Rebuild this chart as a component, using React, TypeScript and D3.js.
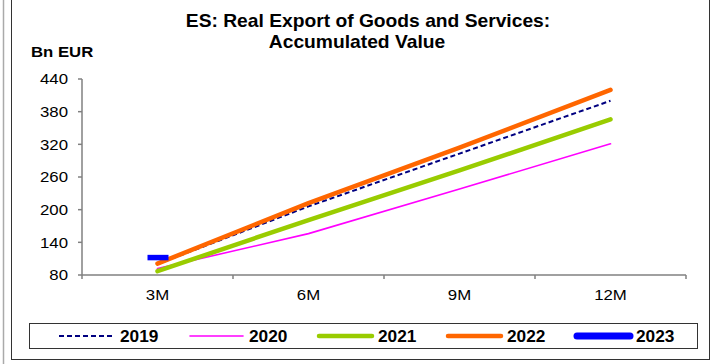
import React from 'react';
import * as d3 from 'd3';

const categories = ['3M', '6M', '9M', '12M'];
const yTicks = [80, 140, 200, 260, 320, 380, 440];
const v2019 = [100, 206, 303, 400];
const v2020 = [92, 156, 238, 321];
const v2021 = [87, 181, 272, 366];
const v2022 = [101, 212, 314, 420];
const v2023 = [112];
const seriesNames = ['2019', '2020', '2021', '2022', '2023'];

const FONT = '"Liberation Sans", Arial, sans-serif';

function T(props: { x: number; y: number; sx?: number; size: number; bold?: boolean; anchor?: string; children: React.ReactNode }) {
  const { x, y, sx = 1.1, size, bold, anchor = 'start', children } = props;
  return (
    <text transform={`translate(${x},${y}) scale(${sx},1)`} textAnchor={anchor} fontSize={size}
      fontWeight={bold ? 'bold' : 'normal'} fill="#000">{children}</text>
  );
}

export default function App() {
  const W = 712, H = 364;
  const x = d3.scaleBand<string>().domain(categories).range([82, 686]).paddingInner(0).paddingOuter(0);
  const y = d3.scaleLinear().domain([80, 440]).range([275, 79]);
  const cx = (c: string) => (x(c) as number) + x.bandwidth() / 2;

  const line = d3.line<number>().x((_, i) => cx(categories[i])).y((d) => y(d));

  const styles = [
    { color: '#000080', width: 2, dash: '5,3', values: v2019 },
    { color: '#FF00FF', width: 1.6, dash: undefined, values: v2020 },
    { color: '#99CC00', width: 4.5, dash: undefined, values: v2021 },
    { color: '#FF6600', width: 4.5, dash: undefined, values: v2022 },
    { color: '#0000FF', width: 5.5, dash: undefined, values: v2023 },
  ];

  const boundaries = [...categories.map((c) => x(c) as number), 686];

  return (
    <svg width={W} height={H} style={{ position: 'absolute', left: 0, top: 0, background: '#fff' }} fontFamily={FONT}>
      <rect x={0} y={0} width={W} height={H} fill="#fff" />
      <line x1={3.5} y1={0} x2={3.5} y2={H} stroke="#aaa" strokeWidth={1.5} />
      <rect x={11.5} y={-1} width={698} height={360.5} fill="none" stroke="#333" strokeWidth={1} />

      <T x={368} y={27} size={17.5} bold anchor="middle">ES: Real Export of Goods and Services:</T>
      <T x={357} y={48} size={17.5} bold anchor="middle">Accumulated Value</T>
      <T x={31} y={57} size={15.5} bold sx={1.08}>Bn EUR</T>

      {/* y axis */}
      <line x1={82} y1={y(440)} x2={82} y2={y(80)} stroke="#808080" strokeWidth={1.5} />
      {yTicks.map((t) => (
        <g key={t}>
          <line x1={78} x2={82} y1={y(t)} y2={y(t)} stroke="#808080" strokeWidth={1.5} />
          <T x={68} y={y(t) + 5.3} size={15} sx={1.12} anchor="end">{t}</T>
        </g>
      ))}
      {/* x axis */}
      <line x1={82} y1={y(80)} x2={686} y2={y(80)} stroke="#808080" strokeWidth={1.5} />
      {boundaries.map((b, i) => (
        <line key={i} x1={b} x2={b} y1={y(80)} y2={y(80) + 4} stroke="#808080" strokeWidth={1.5} />
      ))}
      {categories.map((c) => (
        <T key={c} x={cx(c)} y={300} size={15} sx={1.12} anchor="middle">{c}</T>
      ))}

      {/* series */}
      {styles.slice(0, 4).map((s, i) => (
        <path key={i} d={line(s.values) || ''} fill="none" stroke={s.color} strokeWidth={s.width}
          strokeDasharray={s.dash} strokeLinecap={s.dash ? 'butt' : 'round'} strokeLinejoin="round" />
      ))}
      {v2023.map((v, i) => (
        <line key={i} x1={cx(categories[i]) - 10} x2={cx(categories[i]) + 11} y1={y(v)} y2={y(v)}
          stroke="#0000FF" strokeWidth={5.5} />
      ))}

      {/* legend */}
      <rect x={29.5} y={323.5} width={668} height={25} fill="#fff" stroke="#333" strokeWidth={1} />
      {seriesNames.map((n, i) => {
        const x0 = 59 + i * 129;
        const s = styles[i];
        const lw = i === 4 ? 7 : s.width;
        return (
          <g key={n}>
            <line x1={x0 + (s.dash ? 0 : 2)} x2={x0 + 55} y1={336} y2={336} stroke={s.color} strokeWidth={lw}
              strokeDasharray={s.dash} strokeLinecap={s.dash ? 'butt' : 'round'} />
            <T x={x0 + 61} y={341.8} size={16} bold sx={1.08}>{n}</T>
          </g>
        );
      })}
    </svg>
  );
}
